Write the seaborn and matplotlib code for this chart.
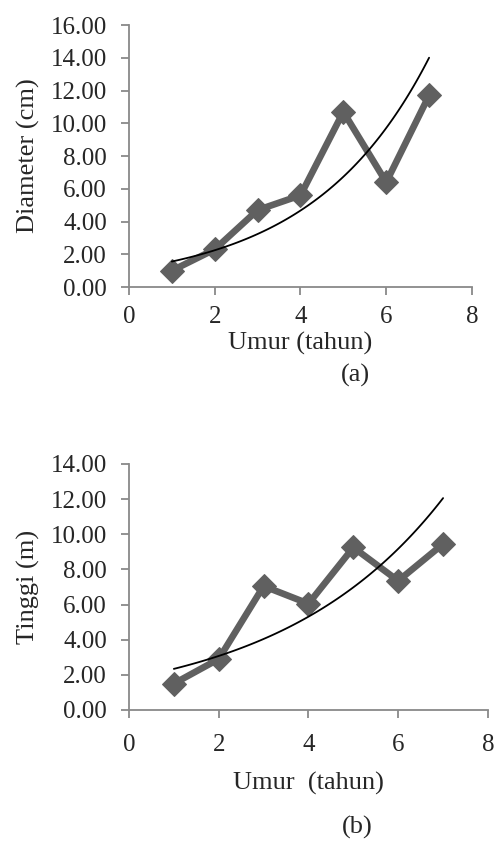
import numpy as np
import pandas as pd
import matplotlib
matplotlib.use("Agg")
import matplotlib.pyplot as plt
import seaborn as sns

# Data
umur = [1, 2, 3, 4, 5, 6, 7]
diameter = [1.0, 2.3, 4.7, 5.6, 10.7, 6.4, 11.7]
tinggi = [1.5, 2.9, 7.05, 6.05, 9.25, 7.35, 9.45]

sns.set_style("white")
plt.rcParams["font.family"] = ["Liberation Serif", "DejaVu Serif"]
plt.rcParams["font.size"] = 18

AXIS_GREY = "#898989"
LINE_GREY = "#606060"


def exp_trend(x, y):
    # Excel-style exponential trendline: ln(y) = ln(a) + b*x
    b, ln_a = np.polyfit(x, np.log(y), 1)
    xs = np.linspace(min(x), max(x), 100)
    return pd.DataFrame({"x": xs, "y": np.exp(ln_a) * np.exp(b * xs)})


def draw(ax, y, ylabel, xlabel, ymax, xpad, xlab_y, ylab_x):
    df = pd.DataFrame({"x": umur, "y": y})
    sns.lineplot(data=df, x="x", y="y", ax=ax, color=LINE_GREY, linewidth=4.8,
                 marker="D", markersize=12, markeredgecolor=LINE_GREY, zorder=2)
    tr = exp_trend(umur, y)
    sns.lineplot(data=tr, x="x", y="y", ax=ax, color="black", linewidth=1.3, zorder=3)
    ax.set_xlim(0, 8)
    ax.set_ylim(0, ymax)
    ax.set_xticks(range(0, 9, 2))
    ticks = np.arange(0, ymax + 0.1, 2)
    ax.set_yticks(ticks)
    ax.set_yticklabels([f"{v:.2f}" for v in ticks])
    ax.set_xlabel(xlabel, fontsize=19)
    ax.set_ylabel(ylabel, fontsize=19)
    ax.xaxis.set_label_coords(0.5, xlab_y)
    ax.yaxis.set_label_coords(ylab_x, 0.5)
    for s in ["top", "right"]:
        ax.spines[s].set_visible(False)
    for s in ["left", "bottom"]:
        ax.spines[s].set_color(AXIS_GREY)
        ax.spines[s].set_linewidth(1.3)
    ax.tick_params(axis="both", direction="out", length=6, width=1.3,
                   color=AXIS_GREY, labelsize=18, left=True, bottom=True)
    ax.tick_params(axis="y", pad=10)
    ax.tick_params(axis="x", pad=xpad)


fig = plt.figure(figsize=(4.94, 8.43), dpi=100)
ax1 = fig.add_axes([0.2611, 0.6595, 0.6943, 0.3108])
ax2 = fig.add_axes([0.2611, 0.1578, 0.7267, 0.2918])

draw(ax1, diameter, "Diameter (cm)", "Umur (tahun)", 16, 8, -0.17, -0.258)
draw(ax2, tinggi, "Tinggi (m)", "Umur  (tahun)", 14, 11, -0.25, -0.247)

fig.text(355 / 494, 1 - 375 / 843, "(a)", ha="center", va="center", fontsize=19)
fig.text(357 / 494, 1 - 827 / 843, "(b)", ha="center", va="center", fontsize=19)

fig.savefig("out.png", dpi=100)
